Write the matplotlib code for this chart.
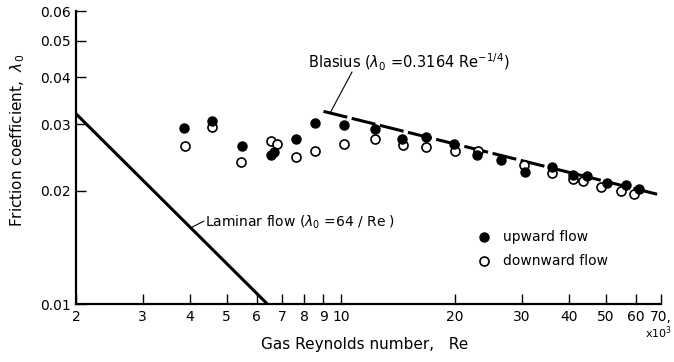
import matplotlib
matplotlib.use('Agg')
import matplotlib.pyplot as plt
import numpy as np

# data (Re in units of 10^3)
up_re = [3.86, 4.58, 5.47, 6.54, 6.66, 7.61, 8.53, 10.2, 12.3, 14.5, 16.8,
         19.9, 22.9, 26.5, 30.6, 36.0, 40.9, 44.7, 50.3, 56.5, 61.2]
up_lam = [0.0294, 0.0307, 0.0263, 0.0249, 0.0254, 0.0274, 0.0302, 0.0298, 0.0291, 0.0275, 0.0277,
          0.0266, 0.0248, 0.0241, 0.0224, 0.0231, 0.0220, 0.0219, 0.0209, 0.0207, 0.0202]
down_re = [3.88, 4.58, 5.45, 6.54, 6.77, 7.61, 8.53, 10.2, 12.3, 14.6, 16.8,
           20.0, 23.0, 30.5, 36.1, 40.9, 43.6, 48.5, 54.8, 59.5]
down_lam = [0.0263, 0.0295, 0.0238, 0.0271, 0.0266, 0.0246, 0.0255, 0.0266, 0.0274, 0.0264, 0.0261,
            0.0255, 0.0255, 0.0234, 0.0223, 0.0215, 0.0212, 0.0204, 0.0200, 0.0196]

x_ticks = [2, 3, 4, 5, 6, 7, 8, 9, 10, 20, 30, 40, 50, 60, 70]
x_labels = ['2', '3', '4', '5', '6', '7', '8', '9', '10', '20', '30', '40', '50', '60', '70,']
y_ticks = [0.01, 0.02, 0.03, 0.04, 0.05, 0.06]
y_labels = ['0.01', '0.02', '0.03', '0.04', '0.05', '0.06']

# theory curves
lam_re = np.array([2.0, 6.4])
lam_f = 64 / (lam_re * 1000)
bl_re = np.array([9.0, 70.0])
bl_f = 0.3164 * (bl_re * 1000) ** -0.25

fig = plt.figure(figsize=(6.74, 3.62), dpi=100)
ax = fig.add_axes([76/674, 1-304/362, (661-76)/674, (304-11)/362])
ax.set_xscale('log')
ax.set_yscale('log')
ax.set_xlim(2, 70)
ax.set_ylim(0.01, 0.06)

ax.plot(lam_re, lam_f, color='black', lw=2.2, solid_capstyle='butt', zorder=2)
ax.plot(bl_re, bl_f, color='black', lw=2.2, dashes=(8, 1.5), zorder=2)

ax.plot(down_re, down_lam, 'o', ms=6.5, mfc='white', mec='black', mew=1.2, zorder=3)
ax.plot(up_re, up_lam, 'o', ms=6.5, mfc='black', mec='black', zorder=4)

# labels with leaders
ax.plot([10.7, 9.36], [0.0413, 0.0321], color='black', lw=0.8)
ax.text(8.19, 0.0439, r'Blasius ($\lambda_0$ =0.3164 Re$^{-1/4}$)', fontsize=10.5, va='center', ha='left')
ax.plot([4.0, 4.35], [0.0159, 0.0166], color='black', lw=0.8)
ax.text(4.38, 0.0165, r'Laminar flow ($\lambda_0$ =64 / Re )', fontsize=10, va='center', ha='left')

# legend drawn by hand
ax.plot([23.9], [0.01506], 'o', ms=6.5, mfc='black', mec='black')
ax.plot([23.9], [0.0130], 'o', ms=6.5, mfc='white', mec='black', mew=1.2)
ax.text(26.8, 0.01506, 'upward flow', fontsize=10, va='center', ha='left')
ax.text(26.8, 0.0130, 'downward flow', fontsize=10, va='center', ha='left')

ax.xaxis.set_major_locator(matplotlib.ticker.FixedLocator(x_ticks))
ax.xaxis.set_major_formatter(matplotlib.ticker.FixedFormatter(x_labels))
ax.xaxis.set_minor_locator(matplotlib.ticker.NullLocator())
ax.yaxis.set_major_locator(matplotlib.ticker.FixedLocator(y_ticks))
ax.yaxis.set_major_formatter(matplotlib.ticker.FixedFormatter(y_labels))
ax.yaxis.set_minor_locator(matplotlib.ticker.NullLocator())
ax.tick_params(direction='in', length=7, width=1, labelsize=10, pad=4)

for s in ['top', 'right']:
    ax.spines[s].set_visible(False)
for s in ['left', 'bottom']:
    ax.spines[s].set_linewidth(1.6)

fig.text(672/674, 1-333/362, r'x10$^3$', fontsize=8, ha='right', va='center')

fig.text(365/674, 1-344/362, 'Gas Reynolds number,   Re', fontsize=11, ha='center', va='center')
fig.text(18/674, 1-140/362, r'Friction coefficient,  $\lambda_0$', fontsize=11,
         ha='center', va='center', rotation=90)

fig.savefig('out.png', dpi=100)
